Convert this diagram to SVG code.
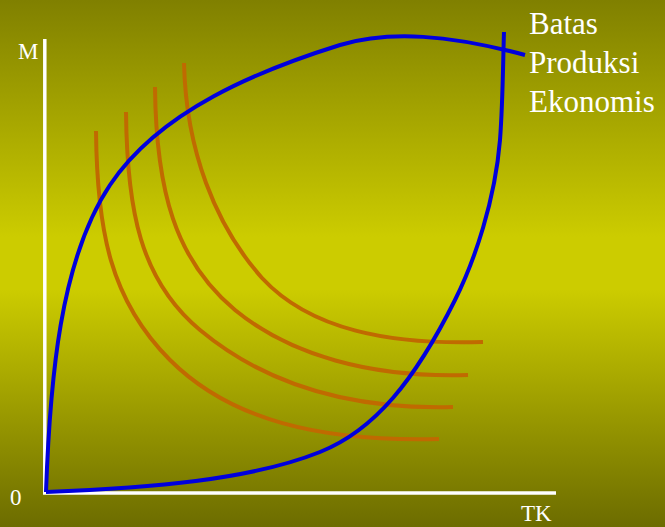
<svg xmlns="http://www.w3.org/2000/svg" width="665" height="527" viewBox="0 0 665 527">
  <defs>
    <linearGradient id="bg" x1="0" y1="0" x2="0" y2="1">
      <stop offset="0" stop-color="#808000"/>
      <stop offset="0.45" stop-color="#cccc00"/>
      <stop offset="0.55" stop-color="#cccc00"/>
      <stop offset="1" stop-color="#6c6c00"/>
    </linearGradient>
    <style>
      .axis { stroke: #ffffff; stroke-width: 3.5; fill: none; }
      .iso { stroke: #c06a00; stroke-width: 4; fill: none; }
      .frontier { stroke: #0000dd; stroke-width: 4; fill: none; stroke-linejoin: round; }
      .lbl { font-family: "Liberation Serif", "Times New Roman", serif; fill: #ffffff; }
    </style>
  </defs>
  <rect x="0" y="0" width="665" height="527" fill="url(#bg)"/>

  <g id="axes">
    <line class="axis" x1="44.8" y1="39" x2="44.8" y2="494"/>
    <line class="axis" x1="43" y1="493" x2="556" y2="493"/>
  </g>

  <g id="isoquants">
    <path id="iso1" class="iso" d="M96,131 C97,230 110,300 170,360 C230,420 320,442 439,439"/>
    <path id="iso2" class="iso" d="M126,112 C127,210 140,280 200,330 C260,380 340,410 453,407"/>
    <path id="iso3" class="iso" d="M155,87 C156,190 175,260 235,310 C290,355 370,378 468,375"/>
    <path id="iso4" class="iso" d="M184,63 C186,150 215,225 262,278 C310,330 390,345 483,342"/>
  </g>

  <g id="frontiers">
    <path id="upper" class="frontier" d="M46,492 C50,380 60,260 110,185 C160,110 260,70 340,45 C390,30 450,35 525,55"/>
    <path id="lower" class="frontier" d="M46,492 C150,488 250,480 320,452 C375,430 415,380 455,300 C475,260 495,200 500,140 C503,100 503,60 504,32"/>
  </g>

  <g id="labels">
    <text class="lbl" x="18" y="59" font-size="23">M</text>
    <text class="lbl" x="10" y="505" font-size="23">0</text>
    <text class="lbl" x="521" y="521" font-size="23">TK</text>
    <text class="lbl" x="529" y="34" font-size="31">Batas</text>
    <text class="lbl" x="529" y="73" font-size="31">Produksi</text>
    <text class="lbl" x="529" y="112" font-size="31">Ekonomis</text>
  </g>
</svg>
